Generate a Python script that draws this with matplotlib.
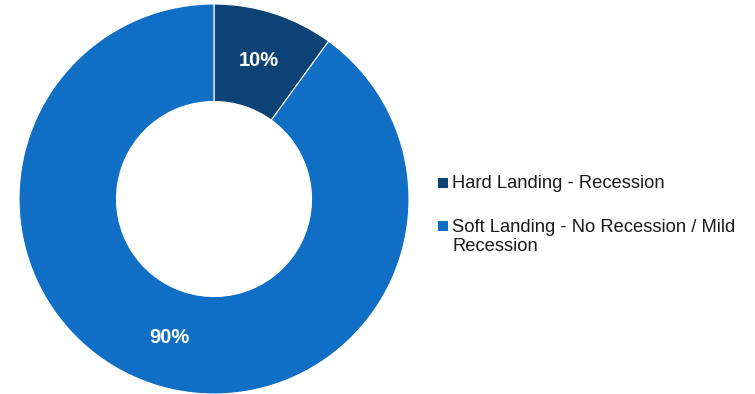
import matplotlib.pyplot as plt
from matplotlib.patches import Rectangle

plt.rcParams['font.family'] = ['Liberation Sans', 'DejaVu Sans']

labels = ['Hard Landing - Recession', 'Soft Landing - No Recession / Mild\nRecession']
shares = [10, 90]
colors = ['#0C4275', '#106EC5']

W, H = 755, 394
fig = plt.figure(figsize=(W / 100, H / 100), dpi=100)
ax = fig.add_axes([19 / W, 0 / H, 390 / W, 390 / H])

wedges, texts, autotexts = ax.pie(
    shares, colors=colors, startangle=90, counterclock=False,
    autopct='%d%%', pctdistance=0.745,
    wedgeprops=dict(width=0.5, edgecolor='white', linewidth=0.8),
    textprops=dict(color='white', fontsize=14.5, fontweight='bold'))
ax.set_xlim(-1, 1)
ax.set_ylim(-1, 1)
ax.set_aspect('equal')

# legend drawn by hand so the marker sits next to the first line of a wrapped label
legend_y = [182.5, 225.5]
line_h = 19.5
for lab, col, y in zip(labels, colors, legend_y):
    fig.patches.append(Rectangle((438 / W, 1 - (y + 5) / H), 10 / W, 10 / H,
                                 transform=fig.transFigure, facecolor=col,
                                 edgecolor='none'))
    # baseline of a multi-line text is its last line
    base = y + 6 + line_h * lab.count('\n')
    fig.text(452 / W, 1 - base / H, lab, fontsize=13.2, color='#1a1a1a',
             va='baseline', ha='left', linespacing=1.12)

fig.savefig('out.png', dpi=100, facecolor='white')
